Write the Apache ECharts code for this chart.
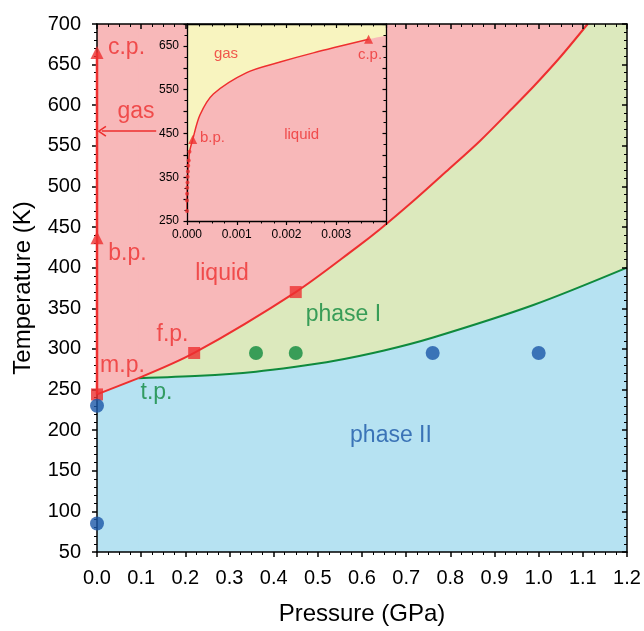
<!DOCTYPE html>
<html>
<head>
<meta charset="utf-8">
<title>Phase diagram</title>
<script src="https://cdn.jsdelivr.net/npm/echarts@6/dist/echarts.min.js"></script>
<style>
  html, body { margin: 0; padding: 0; background: #fff; }
  #chart { width: 644px; height: 631px; }
</style>
</head>
<body>
<div id="chart"></div>
<script>
// ---- main diagram (GPa / K) ----
// melting line, m.p. -> t.p.
const meltLowP = [0, 0.094]
const meltLowT = [244, 264]
// melting line, t.p. -> top of the plot
const meltHighP = [0.094, 0.22, 0.45, 0.588, 0.64, 0.716, 0.79, 0.867, 0.94, 0.99, 1.05, 1.111]
const meltHighT = [264, 295, 370, 425, 447, 482, 518, 556, 596, 624, 660, 700]
// phase I / phase II boundary
const transP = [0.094, 0.233, 0.36, 0.45, 0.535, 0.65, 0.761, 0.988, 1.2]
const transT = [264, 267, 272, 278, 285, 298, 314, 354, 400]
// liquid - gas line at ~0 GPa
const vapP = [0, 0]
const vapT = [244, 665]
const gasArrowP = [0.134, 0.011]
const gasArrowT = 568

const triP = [0, 0]
const triT = [437, 665]
const squareP = [0, 0.22, 0.45]
const squareT = [244, 295, 370]
const greenDotP = [0.36, 0.45]
const greenDotT = [295, 295]
const blueDotP = [0, 0, 0.76, 1.0]
const blueDotT = [230, 85, 295, 295]

// ---- inset ----
const insetP = [0, 0, 0.000002, 0.000005, 0.00001, 0.000013, 0.000018, 0.000025, 0.000035, 0.00005,
  0.000114, 0.00026, 0.00053, 0.0012, 0.00187, 0.00254, 0.00365]
const insetT = [273, 297, 312, 326, 338, 351, 363, 376, 388, 408,
  436, 492, 540, 589, 613, 634, 665]
const insetDotP = [0, 0, 0.000002, 0.000005, 0.00001, 0.000013, 0.000018, 0.000025, 0.000035, 0.00005]
const insetDotT = [273, 297, 312, 326, 338, 351, 363, 376, 388, 408]
const insetTriP = [0.000114, 0.00365]
const insetTriT = [436, 665]
const insetEdge = [0.004, 673]   // liquid fill carried on to the frame

// text notes: [P, T, text, colour]
const mainNotes = [
  [0.0668, 671, 'c.p.', 'red'], [0.0883, 592, 'gas', 'red'], [0.069, 417, 'b.p.', 'red'],
  [0.283, 393, 'liquid', 'red'], [0.171, 317, 'f.p.', 'red'], [0.0577, 279, 'm.p.', 'red'],
  [0.1347, 246, 't.p.', 'green'], [0.558, 342.5, 'phase I', 'green'], [0.6656, 193, 'phase II', 'blue']
]
const insetNotes = [
  [0.000784, 631, 'gas'], [0.002305, 446, 'liquid'], [0.000513, 440, 'b.p.'], [0.003678, 629.5, 'c.p.']
]

const col = {
  pink: '#f8b8b9', phase1: '#dce9bd', phase2: '#b6e2f2', gas: '#f8f4bf',
  red: '#ee2f2f', green: '#0f8a3d', blue: '#1c58a7'
}
const font = 'Liberation Sans, Arial, sans-serif'

const zip = (a, b) => a.map((v, i) => [v, b[i]])

const chart = echarts.init(document.getElementById('chart'), null, { renderer: 'canvas' })

function frameAxis(extra) {
  return Object.assign({
    type: 'value',
    axisLine: { show: true, onZero: false, lineStyle: { color: '#000', width: 1.5 } },
    axisTick: { show: true, length: 5, lineStyle: { color: '#000', width: 1.5 } },
    minorTick: { show: true, length: 3, lineStyle: { color: '#000', width: 1 } },
    splitLine: { show: false },
    axisLabel: { show: false }
  }, extra)
}

const insetLine = { show: true, onZero: false, lineStyle: { color: '#000', width: 1.3 } }
const insetMinor = (n) => ({ show: true, splitNumber: n, length: 2.5, lineStyle: { color: '#000', width: 1 } })

// chevron for the "gas" arrow
const chevron = 'path://M5,0 L10,9 L8.8,10 L5,3 L1.2,10 L0,9 Z'

const option = {
  animation: false,
  textStyle: { fontFamily: font },
  grid: [
    { left: 97, right: 17, top: 24, bottom: 78, show: true, backgroundColor: col.phase1, borderWidth: 0, z: 0 },
    { left: 187, top: 24, width: 199, height: 197, show: true, backgroundColor: col.gas, borderWidth: 0, z: 10 }
  ],
  xAxis: [
    frameAxis({ gridIndex: 0, position: 'bottom', min: 0, max: 1.2, interval: 0.1, z: 5,
      minorTick: { show: true, splitNumber: 4, length: 3, lineStyle: { color: '#000', width: 1 } },
      axisLabel: { show: true, fontSize: 20, color: '#000', margin: 16, formatter: v => v.toFixed(1) },
      name: 'Pressure (GPa)', nameLocation: 'middle', nameGap: 50,
      nameTextStyle: { fontSize: 24, color: '#000' } }),
    frameAxis({ gridIndex: 0, position: 'top', min: 0, max: 1.2, interval: 0.1, z: 5,
      axisTick: { show: true, inside: true, length: 5, lineStyle: { color: '#000', width: 1.5 } },
      minorTick: { show: true, splitNumber: 4, length: 3, lineStyle: { color: '#000', width: 1 } } }),
    frameAxis({ gridIndex: 1, position: 'bottom', min: 0, max: 0.004, interval: 0.001, z: 12,
      axisLine: insetLine,
      axisTick: { show: true, length: 4, lineStyle: { color: '#000', width: 1.2 } },
      minorTick: insetMinor(4),
      axisLabel: { show: true, fontSize: 12, color: '#000', margin: 8, showMaxLabel: false,
        formatter: v => v.toFixed(3) } }),
    frameAxis({ gridIndex: 1, position: 'top', min: 0, max: 0.004, interval: 0.001, z: 12,
      axisLine: insetLine,
      axisTick: { show: true, inside: true, length: 4, lineStyle: { color: '#000', width: 1.2 } },
      minorTick: insetMinor(4) })
  ],
  yAxis: [
    frameAxis({ gridIndex: 0, position: 'left', min: 50, max: 700, interval: 50, z: 5,
      minorTick: { show: true, splitNumber: 5, length: 3, lineStyle: { color: '#000', width: 1 } },
      axisLabel: { show: true, fontSize: 20, color: '#000', margin: 16 },
      name: 'Temperature (K)', nameLocation: 'middle', nameGap: 62,
      nameTextStyle: { fontSize: 24, color: '#000' } }),
    frameAxis({ gridIndex: 0, position: 'right', min: 50, max: 700, interval: 50, z: 5,
      axisTick: { show: true, inside: true, length: 5, lineStyle: { color: '#000', width: 1.5 } },
      minorTick: { show: true, splitNumber: 5, length: 3, lineStyle: { color: '#000', width: 1 } } }),
    // inset temperature: labels every 100 K starting at 250
    frameAxis({ gridIndex: 1, position: 'left', min: 250, max: 700, interval: 50, z: 12,
      axisLine: insetLine,
      axisTick: { show: true, length: 3.5, lineStyle: { color: '#000', width: 1.2 } },
      minorTick: insetMinor(2),
      axisLabel: { show: true, fontSize: 12, color: '#000', margin: 8,
        formatter: v => ((v - 250) % 100 === 0 && v < 700) ? String(v) : '' } }),
    frameAxis({ gridIndex: 1, position: 'right', min: 250, max: 700, interval: 50, z: 12,
      axisLine: insetLine,
      axisTick: { show: true, inside: true, length: 3.5, lineStyle: { color: '#000', width: 1.2 } },
      minorTick: insetMinor(2) })
  ],
  series: [
    // phase II under the low melting line (runs one point on so the two blue fills overlap)
    { type: 'line', xAxisIndex: 0, yAxisIndex: 0, data: zip(meltLowP, meltLowT).concat([[transP[1], transT[1]]]),
      symbol: 'none', lineStyle: { width: 0 }, areaStyle: { color: col.phase2, opacity: 1, origin: 'start' }, z: 2 },
    // liquid above the melting line
    { type: 'line', xAxisIndex: 0, yAxisIndex: 0, data: zip(meltLowP, meltLowT).concat([[meltHighP[1], meltHighT[1]]]),
      symbol: 'none', lineStyle: { width: 0 }, areaStyle: { color: col.pink, opacity: 1, origin: 'end' }, z: 2 },
    { type: 'line', xAxisIndex: 0, yAxisIndex: 0, data: zip(meltHighP, meltHighT), symbol: 'none', smooth: 0.3,
      lineStyle: { width: 0 }, areaStyle: { color: col.pink, opacity: 1, origin: 'end' }, z: 2 },
    // phase II under the transition line
    { type: 'line', xAxisIndex: 0, yAxisIndex: 0, data: zip(transP, transT), symbol: 'none', smooth: 0.3,
      lineStyle: { color: col.green, width: 2 }, areaStyle: { color: col.phase2, opacity: 1, origin: 'start' }, z: 3 },
    // melting line
    { type: 'line', xAxisIndex: 0, yAxisIndex: 0, data: zip(meltLowP, meltLowT), symbol: 'none',
      lineStyle: { color: col.red, width: 2 }, z: 3 },
    { type: 'line', xAxisIndex: 0, yAxisIndex: 0, data: zip(meltHighP, meltHighT), symbol: 'none', smooth: 0.3,
      lineStyle: { color: col.red, width: 2 }, z: 3 },
    // liquid-gas line at 0 GPa, with the gas arrow
    { type: 'line', xAxisIndex: 0, yAxisIndex: 0, data: zip(vapP, vapT), symbol: 'none', clip: false,
      lineStyle: { color: col.red, width: 2.5 }, z: 6,
      markLine: {
        silent: true, symbol: ['none', chevron], symbolSize: [11, 9],
        label: { show: false },
        lineStyle: { color: col.red, width: 1.5, type: 'solid' },
        data: [[{ coord: [gasArrowP[0], gasArrowT] }, { coord: [gasArrowP[1], gasArrowT] }]]
      } },
    { type: 'scatter', xAxisIndex: 0, yAxisIndex: 0, data: zip(triP, triT), symbol: 'triangle', symbolSize: 13,
      itemStyle: { color: col.red }, clip: false, z: 7 },
    { type: 'scatter', xAxisIndex: 0, yAxisIndex: 0, data: zip(squareP, squareT), symbol: 'rect', symbolSize: 12,
      itemStyle: { color: col.red }, clip: false, z: 7 },
    { type: 'scatter', xAxisIndex: 0, yAxisIndex: 0, data: zip(greenDotP, greenDotT), symbol: 'circle', symbolSize: 14,
      itemStyle: { color: col.green }, clip: false, z: 7 },
    { type: 'scatter', xAxisIndex: 0, yAxisIndex: 0, data: zip(blueDotP, blueDotT), symbol: 'circle', symbolSize: 14,
      itemStyle: { color: col.blue }, clip: false, z: 7 },
    // main text notes
    { type: 'scatter', xAxisIndex: 0, yAxisIndex: 0, symbolSize: 0, silent: true, clip: false, z: 8,
      data: mainNotes.map(n => ({ value: [n[0], n[1]], name: n[2],
        label: { show: true, position: 'inside', formatter: '{b}', fontSize: 23, color: col[n[3]] } })) },

    // ---- inset (axes 2) ----
    { type: 'line', xAxisIndex: 2, yAxisIndex: 2, data: zip(insetP, insetT).concat([insetEdge]), symbol: 'none', smooth: 0.3,
      lineStyle: { width: 0 }, areaStyle: { color: col.pink, opacity: 1, origin: 'start' }, z: 11 },
    { type: 'line', xAxisIndex: 2, yAxisIndex: 2, data: zip(insetP, insetT), symbol: 'none', smooth: 0.3,
      lineStyle: { color: col.red, width: 1.5 }, z: 11 },
    { type: 'scatter', xAxisIndex: 2, yAxisIndex: 2, data: zip(insetDotP, insetDotT), symbol: 'circle', symbolSize: 4,
      itemStyle: { color: col.red }, clip: false, z: 13 },
    { type: 'scatter', xAxisIndex: 2, yAxisIndex: 2, data: zip(insetTriP, insetTriT), symbol: 'triangle', symbolSize: 9,
      itemStyle: { color: col.red }, clip: false, z: 13 },
    { type: 'scatter', xAxisIndex: 2, yAxisIndex: 2, symbolSize: 0, silent: true, clip: false, z: 13,
      data: insetNotes.map(n => ({ value: [n[0], n[1]], name: n[2],
        label: { show: true, position: 'inside', formatter: '{b}', fontSize: 15, color: col.red } })) }
  ]
}

chart.setOption(option)
</script>
</body>
</html>
